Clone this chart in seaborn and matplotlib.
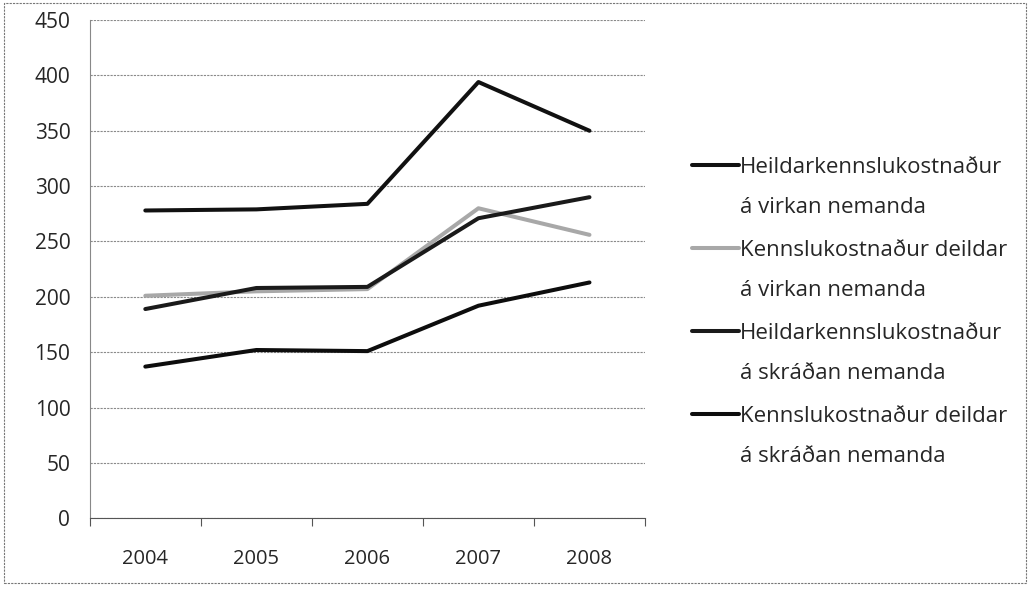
import numpy as np
import pandas as pd
import matplotlib
matplotlib.use('Agg')
import matplotlib.pyplot as plt
import seaborn as sns

years = ['2004', '2005', '2006', '2007', '2008']
series_names = [
    'Heildarkennslukostnaður\ná virkan nemanda',
    'Kennslukostnaður deildar\ná virkan nemanda',
    'Heildarkennslukostnaður\ná skráðan nemanda',
    'Kennslukostnaður deildar\ná skráðan nemanda',
]
heildar_virkan = [278, 279, 284, 394, 350]
deildar_virkan = [201, 205, 207, 280, 256]
heildar_skradan = [189, 208, 209, 271, 290]
deildar_skradan = [137, 152, 151, 192, 213]
y_ticks = [0, 50, 100, 150, 200, 250, 300, 350, 400, 450]

sns.set_theme(style='white')
plt.rcParams['font.family'] = ['Open Sans', 'DejaVu Sans']

# long-form table for seaborn
rows = []
for name, vals in zip(series_names, [heildar_virkan, deildar_virkan, heildar_skradan, deildar_skradan]):
    for i, v in enumerate(vals):
        rows.append({'pos': i, 'year': years[i], 'value': v, 'series': name})
df = pd.DataFrame(rows)

palette = dict(zip(series_names, ['#111111', '#a8a8a8', '#1a1a1a', '#0d0d0d']))

fig = plt.figure(figsize=(10.32, 5.89), dpi=100)
ax = fig.add_axes([0.087, 0.12, 0.538, 0.846])

sns.lineplot(data=df, x='pos', y='value', hue='series', palette=palette,
             linewidth=2.9, ax=ax, legend=False, sort=False)

ax.set_xlim(-0.5, 4.5)
ax.set_ylim(0, 450)
ax.set_yticks(y_ticks)
ax.set_xticks(range(len(years)))
ax.set_xticklabels(years)
ax.set_xticks(np.arange(-0.5, 5, 1), minor=True)
ax.tick_params(axis='x', which='major', length=0, pad=22, labelsize=14.5)
ax.tick_params(axis='x', which='minor', length=6, width=0.8, direction='out', color='#555555', bottom=True)
ax.tick_params(axis='y', length=0, pad=14, labelsize=15)
ax.set_xlabel('')
ax.set_ylabel('')

ax.yaxis.grid(True, color='#8a8a8a', linewidth=0.8, linestyle=(0, (2, 1)))
ax.set_axisbelow(True)
for side in ['top', 'right']:
    ax.spines[side].set_visible(False)
ax.spines['left'].set_color('#888888')
ax.spines['left'].set_linewidth(0.8)
ax.spines['left'].set_linestyle((0, (2, 1)))
ax.spines['bottom'].set_color('#555555')
ax.spines['bottom'].set_linewidth(0.8)

# legend: handle sits beside the first line of each two-line label
for i, name in enumerate(series_names):
    y0 = 0.72 - i * 0.141
    fig.lines.append(plt.Line2D([0.671, 0.716], [y0, y0], transform=fig.transFigure,
                                color=palette[name], linewidth=2.9))
    first, second = name.split('\n')
    fig.text(0.717, y0, first, fontsize=16, ha='left', va='center_baseline')
    fig.text(0.717, y0 - 0.068, second, fontsize=16, ha='left', va='center_baseline')

# scan frame around the chart
fig.patches.append(plt.Rectangle((0.004, 0.01), 0.99, 0.985, transform=fig.transFigure,
                                 fill=False, edgecolor='#777777', linewidth=0.8,
                                 linestyle=(0, (2, 1))))

fig.savefig('out.png', dpi=100)
